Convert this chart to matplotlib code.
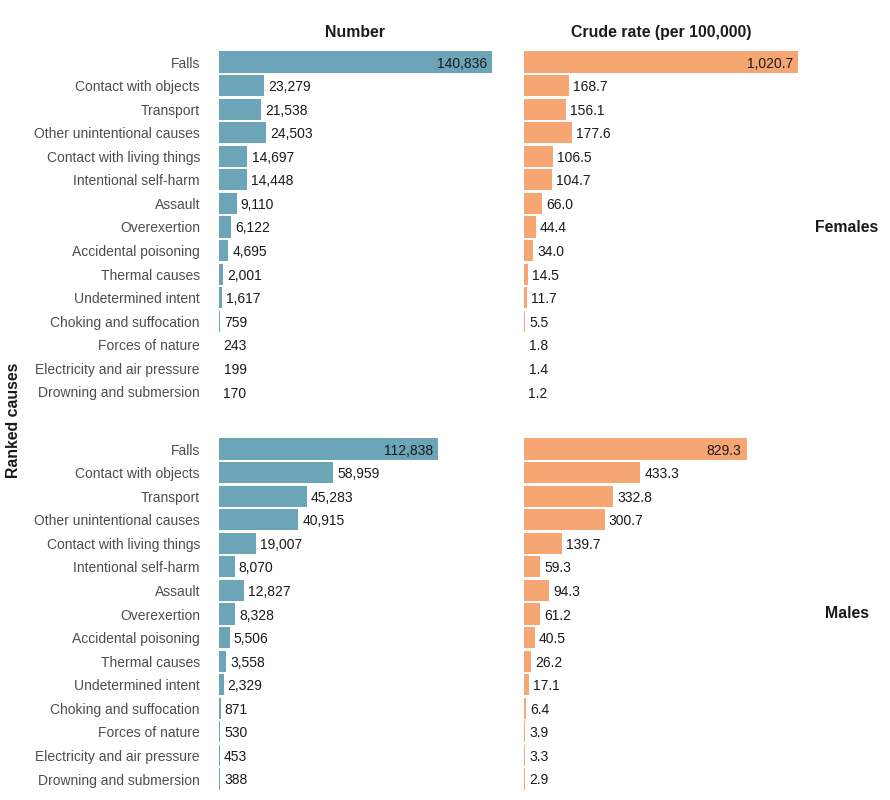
import matplotlib
matplotlib.use("Agg")
import matplotlib.pyplot as plt

plt.rcParams['font.family'] = ['Liberation Sans', 'DejaVu Sans']

causes = ["Falls", "Contact with objects", "Transport", "Other unintentional causes",
          "Contact with living things", "Intentional self-harm", "Assault", "Overexertion",
          "Accidental poisoning", "Thermal causes", "Undetermined intent",
          "Choking and suffocation", "Forces of nature", "Electricity and air pressure",
          "Drowning and submersion"]

fem_number = [140836, 23279, 21538, 24503, 14697, 14448, 9110, 6122, 4695, 2001, 1617, 759, 243, 199, 170]
fem_rate = [1020.7, 168.7, 156.1, 177.6, 106.5, 104.7, 66.0, 44.4, 34.0, 14.5, 11.7, 5.5, 1.8, 1.4, 1.2]
male_number = [112838, 58959, 45283, 40915, 19007, 8070, 12827, 8328, 5506, 3558, 2329, 871, 530, 453, 388]
male_rate = [829.3, 433.3, 332.8, 300.7, 139.7, 59.3, 94.3, 61.2, 40.5, 26.2, 17.1, 6.4, 3.9, 3.3, 2.9]

col_titles = ["Number", "Crude rate (per 100,000)"]
row_titles = ["Females", "Males"]

BLUE = "#6CA5B8"
ORANGE = "#F5A673"

W, H = 890, 800
fig = plt.figure(figsize=(W / 100, H / 100), dpi=100)

def ax_px(x0, x1, y0, y1):
    return fig.add_axes([x0 / W, 1 - y1 / H, (x1 - x0) / W, (y1 - y0) / H])

n = len(causes)
step = 330 / 14
cols_px = [(219, 492), (524, 798)]
rows_px = [(62 - 0.6 * step, 392 + 0.6 * step), (449 - 0.6 * step, 779 + 0.6 * step)]

data = [[fem_number, fem_rate], [male_number, male_rate]]
colors = [BLUE, ORANGE]
fmts = [lambda v: f"{v:,.0f}", lambda v: f"{v:,.1f}"]
maxes = [max(fem_number + male_number), max(fem_rate + male_rate)]

for r in range(2):
    for c in range(2):
        ax = ax_px(cols_px[c][0], cols_px[c][1], rows_px[r][0], rows_px[r][1])
        vals = data[r][c]
        ypos = list(range(n))
        ax.barh(ypos, vals, height=0.9, color=colors[c], linewidth=0)
        ax.set_xlim(0, maxes[c])
        ax.set_ylim(n - 0.4, -0.6)
        for i, v in enumerate(vals):
            txt = fmts[c](v)
            if v > 0.5 * maxes[c]:
                ax.annotate(txt, (v, i), xytext=(-3.6, 0), textcoords="offset points",
                            ha="right", va="center_baseline", fontsize=10, color="#1a1a1a",
                            annotation_clip=False)
            else:
                ax.annotate(txt, (v, i), xytext=(3, 0), textcoords="offset points",
                            ha="left", va="center_baseline", fontsize=10, color="#1a1a1a",
                            annotation_clip=False)
        ax.set_xticks([])
        for s in ax.spines.values():
            s.set_visible(False)
        if c == 0:
            ax.set_yticks(ypos)
            ax.set_yticklabels(causes, fontsize=10, color="#4d4d4d", va="center_baseline")
            ax.tick_params(axis="y", length=0, pad=13.7)
        else:
            ax.set_yticks([])
        if r == 0:
            ax.set_title(col_titles[c], fontsize=11.4, fontweight="bold", pad=8, color="#1a1a1a")
        if c == 1:
            ax.text(847 / W, 1 - ((rows_px[r][0] + rows_px[r][1]) / 2) / H, row_titles[r],
                    transform=fig.transFigure, ha="center", va="center",
                    fontsize=11.4, fontweight="bold", color="#1a1a1a")

fig.text(14 / W, 1 - 420 / H, "Ranked causes", rotation=90, ha="center", va="center",
         fontsize=11.4, fontweight="bold", color="#1a1a1a")

fig.savefig("out.png", dpi=100, facecolor="white")
